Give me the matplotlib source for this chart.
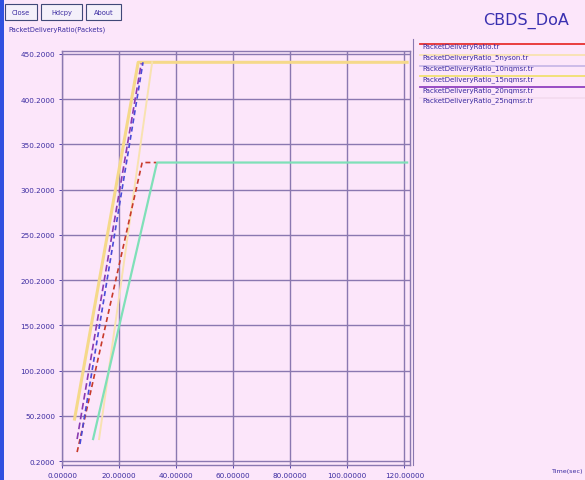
import matplotlib.pyplot as plt
from matplotlib.patches import Rectangle
import numpy as np

# data
t_pdr = [5.3, 28.1, 33.0]
v_pdr = [10.1, 330.2, 330.2]
t_5 = [13.0, 31.6]
v_5 = [24.5, 441.0]
t_10 = [6.3, 28.4]
v_10 = [19.0, 441.0]
t_15 = [4.4, 26.7, 121.0]
v_15 = [46.6, 441.0, 441.0]
t_20 = [5.3, 27.8]
v_20 = [24.5, 440.0]
t_25 = [10.9, 33.3, 121.0]
v_25 = [24.5, 330.2, 330.2]

labels = ["PacketDeliveryRatio.tr", "PacketDeliveryRatio_5nyson.tr",
          "PacketDeliveryRatio_10nqmsr.tr", "PacketDeliveryRatio_15nqmsr.tr",
          "PacketDeliveryRatio_20nqmsr.tr", "PacketDeliveryRatio_25nqmsr.tr"]
yticks = [0.2 + 50 * k for k in range(10)]
xticks = [0, 20, 40, 60, 80, 100, 120]

BG = "#fce6fa"
TXT = "#3a2aa0"
GRID = "#8a78b0"

W, H = 585, 481
fig = plt.figure(figsize=(W / 100, H / 100), dpi=100, facecolor=BG)

def fx(px):
    return px / W

def fy(py):
    return 1 - py / H

ax = fig.add_axes([fx(62), fy(466), fx(410) - fx(62), fy(52) - fy(466)])
ax.set_facecolor(BG)
ax.set_xlim(0, 122)
ax.set_ylim(-4.2, 453.5)
ax.set_xticks(xticks)
ax.set_yticks(yticks)
ax.set_xticklabels(["%.5f" % v for v in xticks])
ax.set_yticklabels(["%.4f" % v for v in yticks])
ax.tick_params(labelsize=5.2, colors=TXT, length=2, width=0.6, pad=3)
ax.grid(True, color=GRID, lw=1.0)
for s in ax.spines.values():
    s.set_color(GRID)
    s.set_linewidth(1.0)

ax.plot(t_15, v_15, color="#f5d98a", lw=2.2, zorder=3)
ax.plot(t_5, v_5, color="#f8e2b0", lw=1.4, zorder=3)
ax.plot(t_25, v_25, color="#7fe0b8", lw=1.6, zorder=3)
ax.plot(t_pdr, v_pdr, color="#c83a2a", lw=1.2, ls=(0, (3, 2)), zorder=4)
ax.plot(t_10, v_10, color="#4a4ad8", lw=1.2, ls=(0, (3, 2)), zorder=4)
ax.plot(t_20, v_20, color="#8a3ab0", lw=1.2, ls=(0, (4, 2)), zorder=4)

# legend to the right, xgraph style
leg_colors = ["#e83030", "#f8e2b0", "#c8b8e8", "#f0e070", "#9040c0", "#f4dcf0"]
fig.add_artist(plt.Line2D([fx(413), fx(413)], [fy(40), fy(466)], color=GRID, lw=0.8))
for i, (lab, c) in enumerate(zip(labels, leg_colors)):
    yy = 45 + 10.8 * i
    fig.add_artist(plt.Line2D([fx(420), fx(585)], [fy(yy), fy(yy)], color=c, lw=1.3))
    fig.text(fx(422), fy(yy + 2), lab, fontsize=5.0, color=TXT, va="center")

fig.text(fx(483), fy(21), "CBDS_DoA", fontsize=11.5, color="#3a30b0", va="center")
fig.text(fx(8), fy(30), "PacketDeliveryRatio(Packets)", fontsize=4.8, color=TXT, va="center")
fig.text(fx(551), fy(472), "Time(sec)", fontsize=4.6, color=TXT, va="center")

# buttons
for lab, x0, x1 in [("Close", 5, 37), ("Hdcpy", 41, 82), ("About", 86, 121)]:
    fig.add_artist(Rectangle((fx(x0), fy(21)), fx(x1) - fx(x0), fy(5) - fy(21),
                             facecolor="#f4f0fa", edgecolor="#404878", lw=0.8))
    fig.text(fx((x0 + x1) / 2), fy(13), lab, fontsize=4.8, color=TXT, ha="center", va="center")

# window border on the left
fig.add_artist(Rectangle((0, 0), fx(4), 1, facecolor="#3050e0", edgecolor="none"))

fig.savefig("out.png", dpi=100, facecolor=BG)
